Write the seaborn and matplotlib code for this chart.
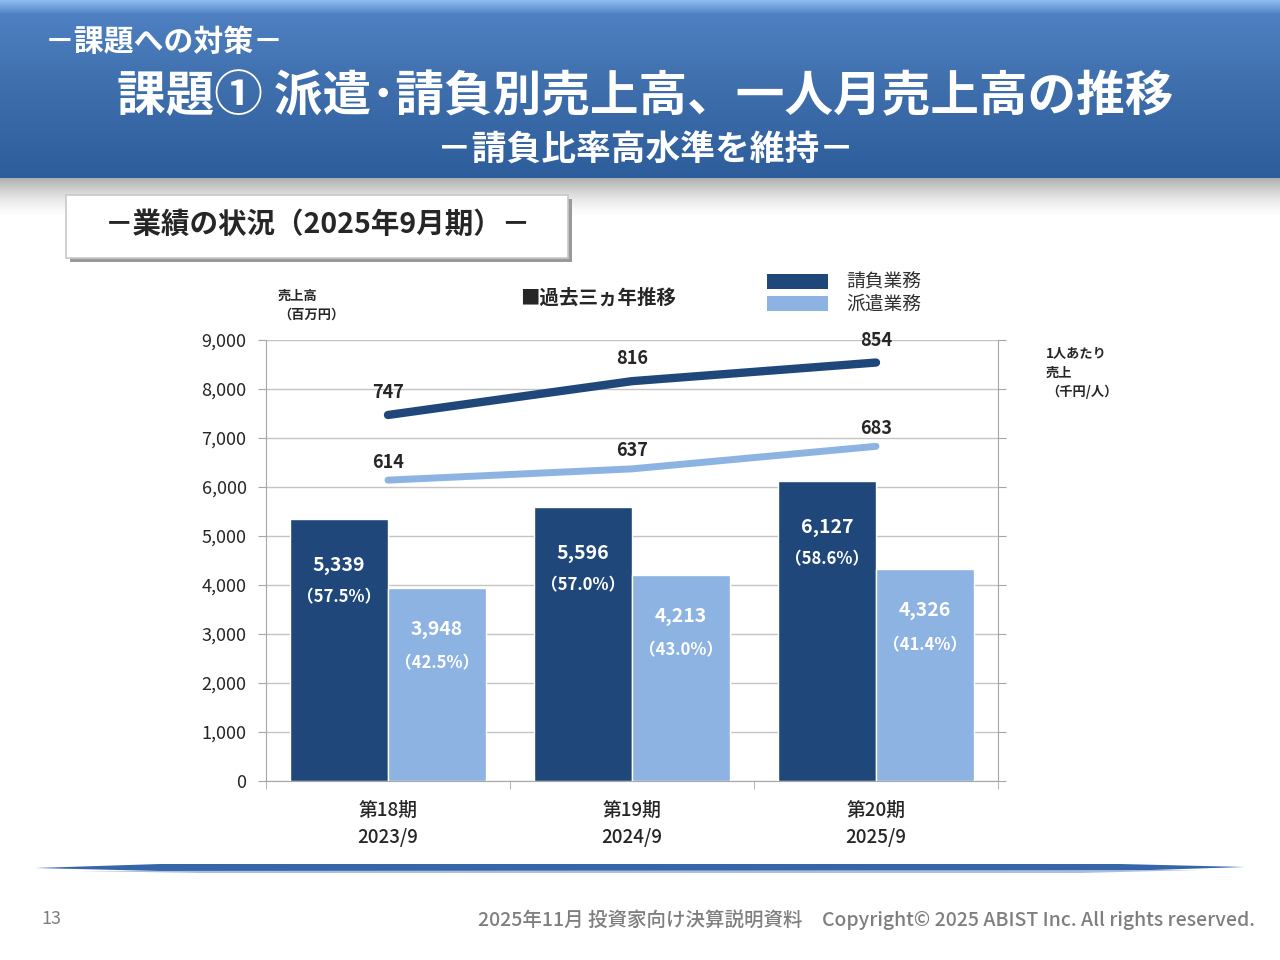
import numpy as np
import pandas as pd
import seaborn as sns
import matplotlib.pyplot as plt
from matplotlib.patches import Rectangle, Polygon
from matplotlib.colors import to_rgb

# data
periods = ['第18期\n2023/9', '第19期\n2024/9', '第20期\n2025/9']
types = ['請負業務', '派遣業務']
ukeoi = [5339, 5596, 6127]
haken = [3948, 4213, 4326]
ukeoi_pct = ['（57.5%）', '（57.0%）', '（58.6%）']
haken_pct = ['（42.5%）', '（43.0%）', '（41.4%）']
ukeoi_per = [747, 816, 854]
haken_per = [614, 637, 683]
yticks = [0, 1000, 2000, 3000, 4000, 5000, 6000, 7000, 8000, 9000]

dark = '#1F477A'
light = '#8DB3E2'

sns.set_style('white')
plt.rcParams['font.family'] = ['Noto Sans CJK JP', 'DejaVu Sans']

W, H = 1280, 960
fig = plt.figure(figsize=(12.8, 9.6), dpi=100)

def fx(px):
    return px / W

def fy(py):
    return 1 - py / H

# header band with gradient
hdr = fig.add_axes([0, fy(178), 1, 178 / H])
stops = [(0, '#8cbcf0'), (0.08, '#4e80c2'), (0.5, '#3e6eab'), (1.0, '#2e5d9b')]
n = 200
t = np.linspace(0, 1, n)
cols = np.zeros((n, 1, 3))
for i in range(3):
    cols[:, 0, i] = np.interp(t, [s[0] for s in stops], [to_rgb(s[1])[i] for s in stops])
hdr.imshow(cols, aspect='auto', extent=[0, 1, 1, 0])
hdr.set_axis_off()

# shadow below header
sh = fig.add_axes([0, fy(218), 1, 40 / H])
g = np.linspace(0, 1, 100)
shade = np.zeros((100, 1, 4))
shade[:, 0, :3] = 0.55
shade[:, 0, 3] = (1 - g) ** 1.6 * 0.7
sh.imshow(shade, aspect='auto', extent=[0, 1, 1, 0])
sh.set_axis_off()

fig.text(fx(45), fy(42), '－課題への対策－', color='white', fontsize=21.5, fontweight='bold', va='center', ha='left')
fig.text(fx(645), fy(97), '課題① 派遣･請負別売上高、一人月売上高の推移', color='white', fontsize=35,
         fontweight='bold', va='center', ha='center')
fig.text(fx(645), fy(150), '－請負比率高水準を維持－', color='white', fontsize=25, fontweight='bold',
         va='center', ha='center')

# section box
fig.patches.append(Rectangle((fx(70), fy(262)), fx(502), 63 / H, transform=fig.transFigure,
                             facecolor='#9a9a9a', edgecolor='none', zorder=1))
fig.patches.append(Rectangle((fx(66), fy(258)), fx(502), 63 / H, transform=fig.transFigure,
                             facecolor='white', edgecolor='#c8c8c8', lw=1.2, zorder=2))
fig.text(fx(318), fy(225), '－業績の状況（2025年9月期）－', fontsize=20.5, fontweight='bold',
         va='center', ha='center', zorder=3)

# main chart
ax = fig.add_axes([fx(266), fy(781), fx(998 - 266), (781 - 340) / H])
df = pd.DataFrame({
    'period': periods * 2,
    'type': [types[0]] * 3 + [types[1]] * 3,
    'value': ukeoi + haken,
})
sns.barplot(data=df, x='period', y='value', hue='type', hue_order=types,
            palette=[dark, light], width=0.8, gap=0, saturation=1, ax=ax, legend=False, zorder=3)
ax.set_xlim(-0.5, len(periods) - 0.5)
ax.set_ylim(0, 9000)
ax.set_yticks(yticks)
ax.set_yticklabels([f'{v:,}' for v in yticks], fontsize=13)
ax.yaxis.grid(True, color='#c4c4c4', lw=1)
ax.set_axisbelow(True)
ax.set_xlabel('')
ax.set_ylabel('')
for s in ['left', 'right', 'bottom']:
    ax.spines[s].set_color('#a6a6a6')
ax.spines['top'].set_visible(False)
ax.tick_params(axis='y', length=6, color='#a6a6a6', pad=8, left=True)
ax.set_xticks(range(len(periods)))
ax.set_xticklabels(periods, fontsize=13.5, fontweight='medium', linespacing=1.6)
ax.set_xticks(np.arange(-0.5, len(periods), 1), minor=True)
ax.tick_params(axis='x', which='major', length=0, pad=14)
ax.tick_params(axis='x', which='minor', length=6, color='#a6a6a6', bottom=True, direction='out')

# bar labels
for i in range(len(periods)):
    xd = i - 0.2
    xl = i + 0.2
    ax.text(xd, ukeoi[i] - 950, f'{ukeoi[i]:,}', color='white', fontsize=14, fontweight='bold',
            ha='center', va='center', zorder=5)
    ax.text(xd, ukeoi[i] - 1600, ukeoi_pct[i], color='white', fontsize=12, fontweight='bold',
            ha='center', va='center', zorder=5)
    ax.text(xl, haken[i] - 850, f'{haken[i]:,}', color='white', fontsize=14, fontweight='bold',
            ha='center', va='center', zorder=5)
    ax.text(xl, haken[i] - 1550, haken_pct[i], color='white', fontsize=12, fontweight='bold',
            ha='center', va='center', zorder=5)

# per-person sales on secondary axis
ax2 = ax.twinx()
ax2.set_ylim(0, 900)
ax2.set_yticks([v / 10 for v in yticks])
ax2.set_yticklabels([])
ax2.tick_params(axis='y', length=6, color='#a6a6a6', right=True)
for s in ax2.spines.values():
    s.set_visible(False)
xs = np.arange(len(periods))
sns.lineplot(x=xs, y=ukeoi_per, color=dark, lw=6, ax=ax2, solid_capstyle='round')
sns.lineplot(x=xs, y=haken_per, color=light, lw=5, ax=ax2, solid_capstyle='round')
for i in range(len(periods)):
    ax2.annotate(f'{ukeoi_per[i]}', (xs[i], ukeoi_per[i]), xytext=(0, 16), textcoords='offset points',
                 ha='center', va='center', fontsize=13, fontweight='bold')
    ax2.annotate(f'{haken_per[i]}', (xs[i], haken_per[i]), xytext=(0, 13), textcoords='offset points',
                 ha='center', va='center', fontsize=13, fontweight='bold')

# legend and captions
for k, c in enumerate([dark, light]):
    fig.patches.append(Rectangle((fx(767), fy(289 + k * 22)), fx(61), 15 / H, transform=fig.transFigure,
                                 facecolor=c, edgecolor='none'))
    fig.text(fx(846), fy(282 + k * 22), types[k], fontsize=13.5, va='center', ha='left', color='#303030')
fig.text(fx(598), fy(298), '■過去三ヵ年推移', fontsize=14, fontweight='bold', ha='center', va='center')
fig.text(fx(278), fy(305), '売上高\n（百万円）', fontsize=9.5, fontweight='bold', ha='left', va='center',
         linespacing=1.4)
fig.text(fx(1046), fy(373), '1人あたり\n売上\n（千円/人）', fontsize=9.5, fontweight='bold', ha='left',
         va='center', linespacing=1.4)

# footer line
fig.patches.append(Polygon([(fx(35), fy(868)), (fx(160), fy(864)), (fx(1120), fy(864)), (fx(1245), fy(867)),
                            (fx(1120), fy(871)), (fx(160), fy(871))],
                           closed=True, transform=fig.transFigure, facecolor='#3766a8', edgecolor='none'))
fig.patches.append(Polygon([(fx(80), fy(871)), (fx(200), fy(873)), (fx(1080), fy(873)), (fx(1200), fy(870))],
                           closed=True, transform=fig.transFigure, facecolor='#a9bfdd', edgecolor='none'))
fig.text(fx(41), fy(919), '13', fontsize=13, color='#7f7f7f', ha='left', va='center')
fig.text(fx(1255), fy(920), '2025年11月 投資家向け決算説明資料　Copyright© 2025 ABIST Inc. All rights reserved.',
         fontsize=14, fontweight='medium', color='#7f7f7f', ha='right', va='center')

fig.savefig('out.png', dpi=100)
